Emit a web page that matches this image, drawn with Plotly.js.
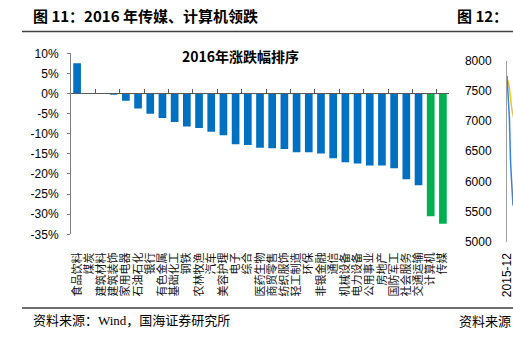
<!DOCTYPE html>
<html>
<head>
<meta charset="utf-8">
<script src="https://cdn.plot.ly/plotly-3.0.1.min.js"></script>
<style>html,body{margin:0;padding:0;background:#fff;}#chart{width:513px;height:337px;}</style>
</head>
<body>
<div id="chart"></div>
<script>
// ---- data ----
const categories = ['食品饮料','煤炭','建筑材料','建筑装饰','家用电器','石油石化','银行','有色金属','基础化工','钢铁','农林牧渔','汽车','美容护理','电子','综合','医药生物','商贸零售','纺织服饰','轻工制造','环保','非银金融','通信','机械设备','电力设备','公用事业','房地产','国防军工','社会服务','交通运输','计算机','传媒'];
const changes2016 = [7.5, 0.0, -0.1, -0.3, -1.8, -3.7, -5.0, -6.1, -7.1, -8.2, -8.6, -9.5, -10.4, -12.6, -12.8, -13.5, -13.6, -13.8, -14.6, -14.6, -14.9, -16.1, -17.1, -17.4, -17.9, -17.9, -18.6, -21.3, -22.8, -30.5, -32.4];
const highlighted = ['计算机','传媒'];
const yTickVals = [10, 5, 0, -5, -10, -15, -20, -25, -30, -35];
const yTickText = ['10%','5%','0%','-5%','-10%','-15%','-20%','-25%','-30%','-35%'];

// partial neighbouring chart (图 12)
const fig12X = [0, 1, 2, 3, 4, 5, 6];
const fig12Blue = [7750, 7450, 7050, 6300, 5800, 5600, 5650];
const fig12Yellow = [7700, 7650, 7550, 7300, 7200, 7100, 7000];
const fig12YTicks = [5000, 5500, 6000, 6500, 7000, 7500, 8000];
const fig12XTickVals = [0.4];
const fig12XTickText = ['2015-12'];

const W = 513, H = 337;
const px = v => v / W;
const py = v => (H - v) / H;

const blue = '#0070C0', green = '#00B050';
const colors = categories.map(c => highlighted.includes(c) ? green : blue);

const traces = [
  {type:'bar', x: categories, y: changes2016, marker:{color: colors, line:{width:0}}, xaxis:'x', yaxis:'y', hoverinfo:'x+y', showlegend:false},
  {type:'scatter', mode:'markers', x: categories, y: categories.map(()=>null), xaxis:'x2', yaxis:'y', showlegend:false, hoverinfo:'skip'},
  {type:'scatter', mode:'lines', x: fig12X, y: fig12Yellow, line:{color:'#FFC000', width:1.5}, xaxis:'x3', yaxis:'y3', showlegend:false},
  {type:'scatter', mode:'lines', x: fig12X, y: fig12Blue, line:{color:'#2E86DE', width:1.5}, xaxis:'x3', yaxis:'y3', showlegend:false}
];

const xDom = [px(71), px(449)];
const yDom = [py(234.3), py(53.3)];
const zeroPos = py(93.3);

const layout = {
  width: W, height: H,
  margin:{l:0,r:0,t:0,b:0},
  paper_bgcolor:'#fff', plot_bgcolor:'rgba(0,0,0,0)',
  font:{family:'"Liberation Sans", Arial, "Noto Sans CJK SC", sans-serif', color:'#000'},
  bargap: 0.37,
  xaxis:{domain:xDom, anchor:'y', type:'category', range:[-0.5, 30.5], tickmode:'array', tickvals: categories, ticktext: categories,
         showline:false, ticks:'', showgrid:false, zeroline:false,
         tickangle:-90, tickfont:{family:'"Noto Sans CJK SC", sans-serif', size:11, color:'#111'}, ticklabelstandoff:15, fixedrange:true},
  xaxis2:{domain:xDom, overlaying:'x', anchor:'free', position: zeroPos, type:'category', range:[-0.5, 30.5], showline:true, linecolor:'#595959', linewidth:1,
          ticks:'inside', tickson:'boundaries', ticklen:4, tickcolor:'#595959', showticklabels:false, showgrid:false, zeroline:false},
  yaxis:{domain:yDom, anchor:'x', range:[-35, 10], tickvals: yTickVals, ticktext: yTickText, showline:true, linecolor:'#7f7f7f', linewidth:1,
         ticks:'outside', ticklen:3, tickcolor:'#7f7f7f', showgrid:false, zeroline:false, tickfont:{size:12, color:'#000'}, ticklabelstandoff:6},
  xaxis3:{domain:[px(507), 1], anchor:'y3', range:[0, 5], tickmode:'array', tickvals: fig12XTickVals, ticktext: fig12XTickText, tickangle:-90, ticks:'', showline:false,
          showgrid:false, zeroline:false, tickfont:{size:12, color:'#000'}, ticklabelstandoff:8, ticklabeloverflow:'allow'},
  yaxis3:{domain:[py(241.7), py(60.7)], anchor:'x3', range:[5000, 8000], tickvals: fig12YTicks, showline:true, linecolor:'#9f9f9f', linewidth:1,
          ticks:'', showgrid:false, zeroline:false, tickfont:{size:12, color:'#000'}, ticklabelstandoff:12, tickformat:'d'},
  shapes:[
    {type:'line', xref:'paper', yref:'paper', x0:px(22), x1:1, y0:py(31.5), y1:py(31.5), line:{color:'#404040', width:1.5}},
    {type:'line', xref:'paper', yref:'paper', x0:px(22), x1:1, y0:py(308), y1:py(308), line:{color:'#404040', width:1.5}}
  ],
  annotations:[
    {xref:'paper', yref:'paper', x:px(31), y:py(16), xanchor:'left', yanchor:'middle', showarrow:false,
     text:'<b>图 11：2016 年传媒、计算机领跌</b>', font:{family:'"Noto Sans CJK SC", sans-serif', size:15, color:'#000'}},
    {xref:'paper', yref:'paper', x:px(455), y:py(16), xanchor:'left', yanchor:'middle', showarrow:false,
     text:'<b>图 12：</b>', font:{family:'"Noto Sans CJK SC", sans-serif', size:15, color:'#000'}},
    {xref:'paper', yref:'paper', x:px(240), y:py(56), xanchor:'center', yanchor:'middle', showarrow:false,
     text:'<b>2016年涨跌幅排序</b>', font:{family:'"Noto Sans CJK SC", sans-serif', size:14, color:'#000'}},
    {xref:'paper', yref:'paper', x:px(31), y:py(320), xanchor:'left', yanchor:'middle', showarrow:false,
     text:'资料来源：Wind，国海证券研究所', font:{family:'"Liberation Serif", "Noto Sans CJK SC", serif', size:13, color:'#000'}},
    {xref:'paper', yref:'paper', x:px(457), y:py(320), xanchor:'left', yanchor:'middle', showarrow:false,
     text:'资料来源', font:{family:'"Noto Sans CJK SC", serif', size:13, color:'#000'}}
  ]
};

Plotly.newPlot('chart', traces, layout, {staticPlot:true, displayModeBar:false});
</script>
</body>
</html>
